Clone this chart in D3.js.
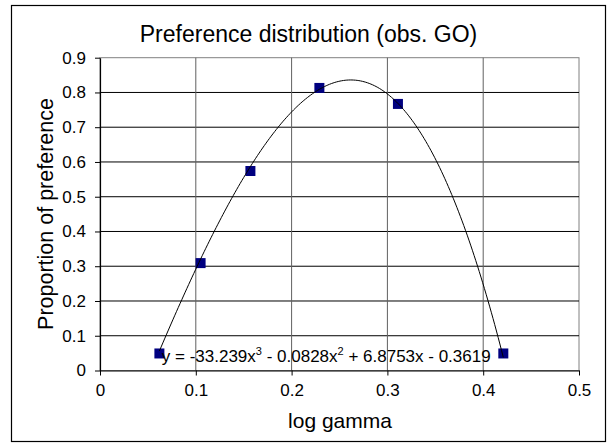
<!DOCTYPE html>
<html>
<head>
<meta charset="utf-8">
<script src="https://cdn.jsdelivr.net/npm/d3@7"></script>
<style>
  html, body { margin: 0; padding: 0; background: #fff; }
  svg { display: block; font-family: "Liberation Sans", Arial, sans-serif; }
</style>
</head>
<body>
<svg id="chart" width="608" height="443"></svg>
<script>
// ---- data ----
const logGamma = [0.062, 0.105, 0.157, 0.229, 0.311, 0.421];
const preference = [0.049, 0.309, 0.574, 0.813, 0.767, 0.049];
// cubic trendline coefficients (x^3, x^2, x, const) as shown on the chart
const trendCoefs = [-33.239, -0.0828, 6.8753, -0.3619];
const xTicks = [0, 0.1, 0.2, 0.3, 0.4, 0.5];
const yTicks = [0, 0.1, 0.2, 0.3, 0.4, 0.5, 0.6, 0.7, 0.8, 0.9];
const titleText = "Preference distribution (obs. GO)";
const xTitle = "log gamma";
const yTitle = "Proportion of preference";

// ---- layout ----
const svg = d3.select("#chart");
const plot = { left: 100, right: 579, top: 57.7, bottom: 370.5 };
const x = d3.scaleLinear().domain([0, 0.5]).range([plot.left, plot.right]);
const y = d3.scaleLinear().domain([0, 0.9]).range([plot.bottom, plot.top]);
const fmt = d => d === 0 ? "0" : d3.format(".1f")(d);

// outer chart border
svg.append("rect")
  .attr("x", 11.5).attr("y", 5.5).attr("width", 594).attr("height", 436)
  .attr("fill", "#fff").attr("stroke", "#000").attr("stroke-width", 1.2);

// title
svg.append("text")
  .attr("x", 308.5).attr("y", 41.5)
  .attr("text-anchor", "middle")
  .attr("font-size", 23)
  .attr("fill", "#000")
  .text(titleText);

// plot area border
svg.append("rect")
  .attr("x", plot.left).attr("y", plot.top)
  .attr("width", plot.right - plot.left).attr("height", plot.bottom - plot.top)
  .attr("fill", "none").attr("stroke", "#808080").attr("stroke-width", 1);

// gridlines
svg.append("g").selectAll("line")
  .data(yTicks.filter(d => d > 0 && d < 0.9))
  .join("line")
  .attr("x1", plot.left).attr("x2", plot.right)
  .attr("y1", d => y(d)).attr("y2", d => y(d))
  .attr("stroke", "#000").attr("stroke-width", 1);
svg.append("g").selectAll("line")
  .data(xTicks.filter(d => d > 0 && d < 0.5))
  .join("line")
  .attr("y1", plot.top).attr("y2", plot.bottom)
  .attr("x1", d => x(d)).attr("x2", d => x(d))
  .attr("stroke", "#606060").attr("stroke-width", 1);

// axes
const xAxis = svg.append("g")
  .attr("transform", `translate(0,${plot.bottom})`)
  .call(d3.axisBottom(x).tickValues(xTicks).tickFormat(fmt).tickSizeInner(5).tickSizeOuter(0).tickPadding(8));
const yAxis = svg.append("g")
  .attr("transform", `translate(${plot.left},0)`)
  .call(d3.axisLeft(y).tickValues(yTicks).tickFormat(fmt).tickSizeInner(5).tickSizeOuter(0).tickPadding(9));
[xAxis, yAxis].forEach(g => {
  g.select(".domain").attr("stroke", "#000").attr("stroke-width", 1.2);
  g.selectAll(".tick line").attr("stroke", "#000");
  g.selectAll(".tick text")
    .attr("font-family", "Liberation Sans, Arial, sans-serif")
    .attr("font-size", 17).attr("fill", "#000");
});

// axis titles
svg.append("text")
  .attr("x", 340).attr("y", 428)
  .attr("text-anchor", "middle").attr("font-size", 21)
  .text(xTitle);
svg.append("text")
  .attr("transform", "translate(53,214) rotate(-90)")
  .attr("text-anchor", "middle").attr("font-size", 21.5)
  .text(yTitle);

// markers
const data = logGamma.map((v, i) => ({ x: v, y: preference[i] }));
const ms = 10;
svg.append("g").selectAll("rect")
  .data(data)
  .join("rect")
  .attr("x", d => x(d.x) - ms / 2).attr("y", d => y(d.y) - ms / 2)
  .attr("width", ms).attr("height", ms)
  .attr("fill", "#000080");

// trendline from shown polynomial
const poly = v => trendCoefs[0] * v ** 3 + trendCoefs[1] * v ** 2 + trendCoefs[2] * v + trendCoefs[3];
const xs = d3.range(0, 201).map(i => d3.min(logGamma) + (d3.max(logGamma) - d3.min(logGamma)) * i / 200);
svg.append("path")
  .datum(xs)
  .attr("fill", "none").attr("stroke", "#000").attr("stroke-width", 1)
  .attr("d", d3.line().x(d => x(d)).y(d => y(poly(d))));

// equation label
const eq = svg.append("text")
  .attr("x", x(0.0645)).attr("y", y(0.025))
  .attr("font-size", 17).attr("fill", "#000");
const sup = t => eq.append("tspan").attr("dy", -7).attr("font-size", 11).text(t);
const norm = t => eq.append("tspan").attr("dy", 7).text(t);
eq.append("tspan").text("y = -33.239x");
sup("3");
norm(" - 0.0828x");
sup("2");
norm(" + 6.8753x - 0.3619");
</script>
</body>
</html>
